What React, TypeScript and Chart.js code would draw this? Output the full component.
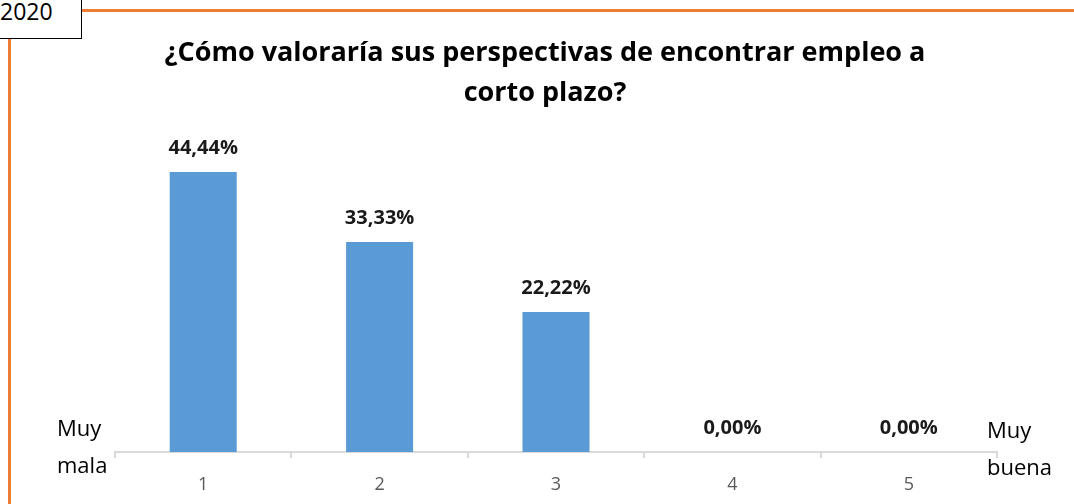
import React, { useEffect, useRef } from "react";
import { Chart, registerables } from "chart.js";

Chart.register(...registerables);

const categories = ["1", "2", "3", "4", "5"];
const values = [44.44, 33.33, 22.22, 0, 0];
const valueLabels = ["44,44%", "33,33%", "22,22%", "0,00%", "0,00%"];
const titleLines = ["¿Cómo valoraría sus perspectivas de encontrar empleo a", "corto plazo?"];
const leftNote = ["Muy", "mala"];
const rightNote = ["Muy", "buena"];
const yearLabel = "2020";

const W = 1074;
const H = 504;

const decorPlugin = {
  id: "decor",
  afterDraw(chart: any) {
    const { ctx, chartArea } = chart;
    ctx.save();
    ctx.fillStyle = "#000000";
    ctx.textAlign = "center";
    ctx.textBaseline = "alphabetic";
    ctx.font = "bold 27px 'Open Sans'";
    ctx.fillText(titleLines[0], 545, 61);
    ctx.fillText(titleLines[1], 545, 101);

    const meta = chart.getDatasetMeta(0);
    ctx.font = "bold 20px 'Open Sans'";
    ctx.fillStyle = "#1a1a1a";
    meta.data.forEach((bar: any, i: number) => {
      ctx.fillText(valueLabels[i], bar.x, bar.y - 18);
    });

    ctx.font = "22px 'Open Sans'";
    ctx.fillStyle = "#000000";
    ctx.textAlign = "left";
    ctx.fillText(leftNote[0], 57, chartArea.bottom - 16);
    ctx.fillText(leftNote[1], 57, chartArea.bottom + 21);
    ctx.fillText(rightNote[0], chartArea.right - 10, chartArea.bottom - 14);
    ctx.fillText(rightNote[1], chartArea.right - 10, chartArea.bottom + 23);
    ctx.restore();
  },
};

export default function App() {
  const ref = useRef<HTMLCanvasElement | null>(null);
  useEffect(() => {
    if (!ref.current) return;
    const chart = new Chart(ref.current, {
      type: "bar",
      data: {
        labels: categories,
        datasets: [
          {
            data: values,
            backgroundColor: "#5B9BD5",
            barPercentage: 0.38,
            categoryPercentage: 1,
          },
        ],
      },
      options: {
        animation: false,
        responsive: false,
        layout: { padding: { left: 115, right: 77, top: 137, bottom: 0 } },
        plugins: {
          legend: { display: false },
          title: { display: false },
          tooltip: { enabled: false },
        },
        scales: {
          x: {
            afterFit: (scale: any) => {
              scale.height = 52;
            },
            grid: {
              display: true,
              drawOnChartArea: false,
              drawTicks: true,
              tickLength: 6,
              color: "#D9D9D9",
              lineWidth: 2,
              offset: true,
            },
            border: { display: true, color: "#D9D9D9", width: 2 },
            ticks: {
              color: "#595959",
              font: { family: "'Open Sans'", size: 18 },
              padding: 16,
            },
          },
          y: {
            display: false,
            min: 0,
            max: 50,
          },
        },
      },
      plugins: [decorPlugin],
    });
    return () => chart.destroy();
  }, []);

  return (
    <div style={{ position: "fixed", left: 0, top: 0, width: W, height: H, background: "#fff", overflow: "hidden" }}>
      <canvas ref={ref} width={W} height={H} style={{ position: "absolute", left: 0, top: 0 }} />
      <div style={{ position: "absolute", left: 81, top: 9, right: 0, height: 3, background: "#ED7D31" }} />
      <div style={{ position: "absolute", left: 8, top: 38, width: 3, bottom: 0, background: "#ED7D31" }} />
      <div
        style={{
          position: "absolute",
          left: -4,
          top: -4,
          width: 86,
          height: 43,
          border: "1.5px solid #000",
          background: "#fff",
          boxSizing: "border-box",
          fontFamily: "'Open Sans'",
          fontSize: 23,
          lineHeight: "28px",
          paddingLeft: 3,
          paddingTop: 0,
          color: "#000",
        }}
      >
        {yearLabel}
      </div>
    </div>
  );
}
